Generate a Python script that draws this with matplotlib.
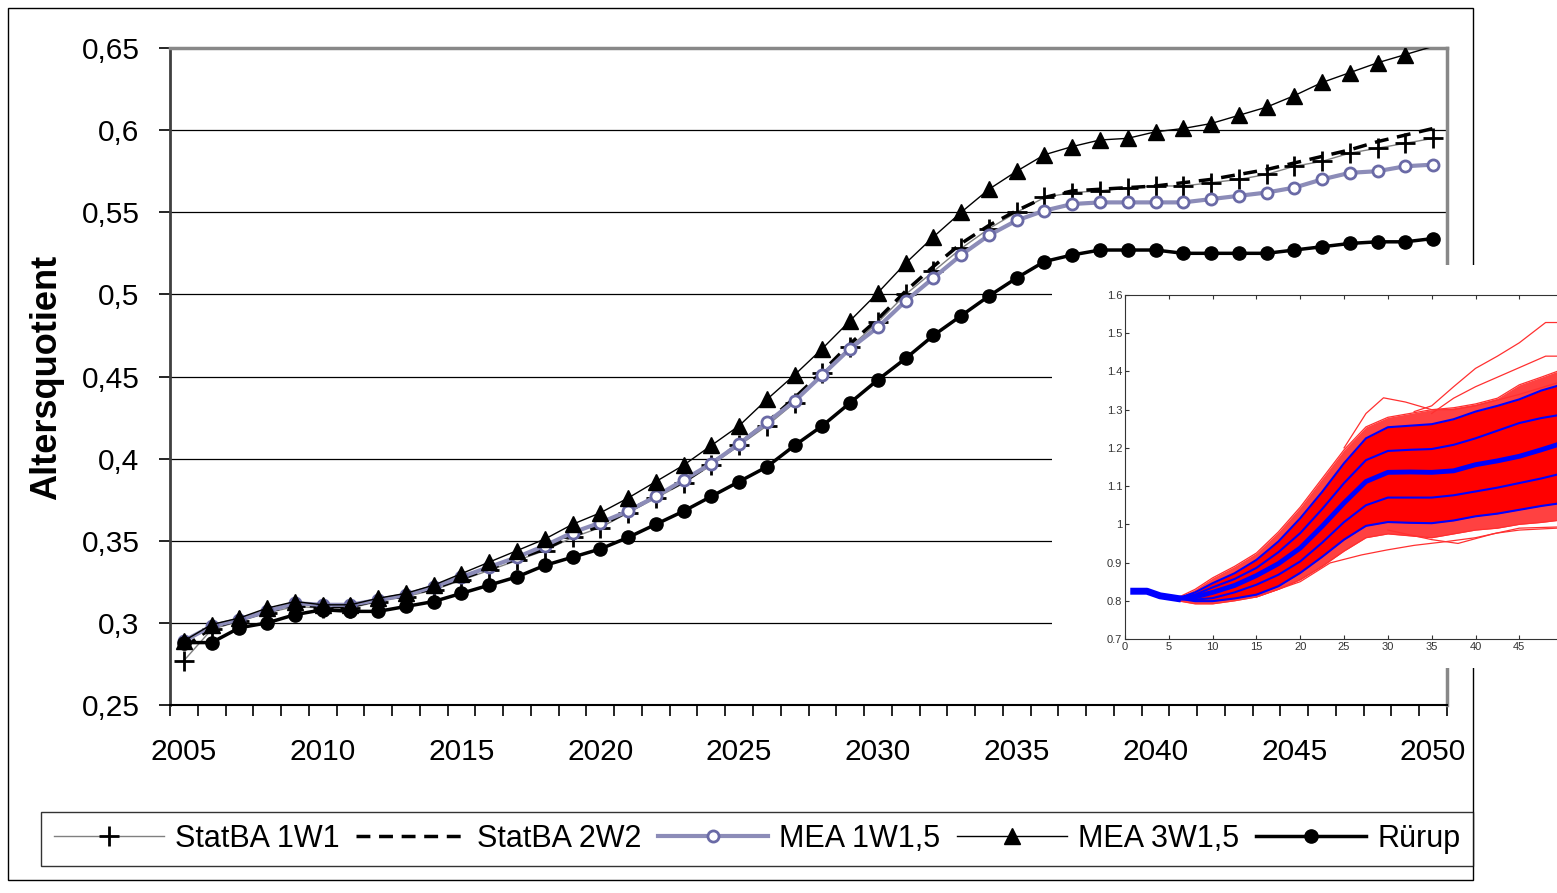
import numpy as np
import matplotlib
matplotlib.use("Agg")
import matplotlib.pyplot as plt
from matplotlib.patches import Rectangle

plt.rcParams['font.family'] = ['Liberation Sans', 'DejaVu Sans']

years = list(range(2005, 2051))

statba_1w1 = [0.277, 0.296, 0.301, 0.306, 0.310, 0.309, 0.309, 0.313, 0.316, 0.320,
              0.326, 0.332, 0.338, 0.344, 0.352, 0.358, 0.367, 0.376, 0.385, 0.396,
              0.408, 0.420, 0.434, 0.452, 0.468, 0.483, 0.500, 0.514, 0.528, 0.540,
              0.550, 0.559, 0.562, 0.563, 0.565, 0.566, 0.566, 0.568, 0.570, 0.573,
              0.578, 0.581, 0.586, 0.589, 0.592, 0.595]
statba_2w2 = [0.285, 0.297, 0.302, 0.307, 0.311, 0.310, 0.310, 0.314, 0.317, 0.321,
              0.327, 0.333, 0.339, 0.345, 0.353, 0.359, 0.368, 0.377, 0.386, 0.397,
              0.409, 0.422, 0.437, 0.453, 0.470, 0.485, 0.502, 0.517, 0.531, 0.542,
              0.551, 0.559, 0.563, 0.564, 0.565, 0.566, 0.568, 0.570, 0.573, 0.576,
              0.580, 0.584, 0.588, 0.593, 0.597, 0.601]
mea_1w15 = [0.289, 0.298, 0.302, 0.307, 0.312, 0.311, 0.311, 0.314, 0.317, 0.322,
            0.328, 0.334, 0.340, 0.347, 0.355, 0.361, 0.368, 0.377, 0.387, 0.397,
            0.409, 0.422, 0.435, 0.451, 0.467, 0.480, 0.496, 0.510, 0.524, 0.536,
            0.545, 0.551, 0.555, 0.556, 0.556, 0.556, 0.556, 0.558, 0.560, 0.562,
            0.565, 0.570, 0.574, 0.575, 0.578, 0.579]
mea_3w15 = [0.289, 0.299, 0.303, 0.309, 0.313, 0.311, 0.311, 0.315, 0.318, 0.323,
            0.330, 0.337, 0.344, 0.351, 0.360, 0.367, 0.376, 0.386, 0.396, 0.408,
            0.420, 0.436, 0.451, 0.467, 0.484, 0.501, 0.519, 0.535, 0.550, 0.564,
            0.575, 0.585, 0.590, 0.594, 0.595, 0.599, 0.601, 0.604, 0.609, 0.614,
            0.621, 0.629, 0.635, 0.641, 0.646, 0.651]
ruerup = [0.288, 0.288, 0.297, 0.300, 0.305, 0.308, 0.307, 0.307, 0.310, 0.313,
          0.318, 0.323, 0.328, 0.335, 0.340, 0.345, 0.352, 0.360, 0.368, 0.377,
          0.386, 0.395, 0.408, 0.420, 0.434, 0.448, 0.461, 0.475, 0.487, 0.499,
          0.510, 0.520, 0.524, 0.527, 0.527, 0.527, 0.525, 0.525, 0.525, 0.525,
          0.527, 0.529, 0.531, 0.532, 0.532, 0.534]

yticks = [0.25, 0.3, 0.35, 0.4, 0.45, 0.5, 0.55, 0.6, 0.65]
ytick_labels = ['0,25', '0,3', '0,35', '0,4', '0,45', '0,5', '0,55', '0,6', '0,65']
xtick_years = [2005, 2010, 2015, 2020, 2025, 2030, 2035, 2040, 2045, 2050]

# inset (simulation fan)
inset_t = [1, 2.5, 4, 6, 8, 10, 12.5, 15, 17.5, 20, 22.5, 25, 27.5, 30, 32.5, 35,
           37.5, 40, 42.5, 45, 47.5, 49.3]
q95 = [0.825, 0.825, 0.813, 0.806, 0.822, 0.846, 0.872, 0.907, 0.955, 1.016, 1.085,
       1.160, 1.225, 1.254, 1.258, 1.262, 1.275, 1.295, 1.310, 1.327, 1.350, 1.362]
q75 = [0.825, 0.825, 0.813, 0.806, 0.816, 0.835, 0.857, 0.886, 0.927, 0.977, 1.040,
       1.108, 1.168, 1.192, 1.195, 1.197, 1.208, 1.225, 1.245, 1.265, 1.278, 1.285]
q50 = [0.825, 0.825, 0.813, 0.806, 0.810, 0.822, 0.840, 0.866, 0.897, 0.938, 0.995,
       1.056, 1.112, 1.136, 1.137, 1.136, 1.140, 1.156, 1.166, 1.178, 1.195, 1.208]
q25 = [0.825, 0.825, 0.813, 0.806, 0.803, 0.807, 0.822, 0.842, 0.868, 0.903, 0.952,
       1.006, 1.050, 1.070, 1.070, 1.070, 1.076, 1.086, 1.096, 1.108, 1.120, 1.130]
q05 = [0.825, 0.825, 0.813, 0.806, 0.799, 0.799, 0.806, 0.816, 0.838, 0.873, 0.915,
       0.960, 0.996, 1.006, 1.004, 1.003, 1.010, 1.021, 1.028, 1.038, 1.048, 1.054]
red_hi = [0.825, 0.825, 0.813, 0.808, 0.830, 0.860, 0.890, 0.925, 0.980, 1.045, 1.120,
          1.195, 1.255, 1.280, 1.290, 1.300, 1.305, 1.315, 1.330, 1.365, 1.385, 1.400]
red_lo = [0.825, 0.825, 0.813, 0.800, 0.792, 0.792, 0.800, 0.810, 0.830, 0.855, 0.890,
          0.930, 0.965, 0.975, 0.970, 0.965, 0.975, 0.985, 0.990, 1.000, 1.005, 1.010]
out_a_t = [25, 27.5, 29.5, 32, 35, 37.5, 40, 45, 49.3]
out_a_v = [1.20, 1.29, 1.331, 1.32, 1.30, 1.30, 1.31, 1.34, 1.37]
out_b_t = [33, 35, 37.5, 40, 42.5, 45, 48, 49.3]
out_b_v = [1.295, 1.31, 1.36, 1.408, 1.44, 1.475, 1.528, 1.528]
out_c_t = [35, 37.5, 40, 42.5, 45, 48, 49.3]
out_c_v = [1.29, 1.33, 1.36, 1.385, 1.41, 1.44, 1.44]
out_d_t = [15, 20, 23.4, 27, 29.9, 33, 36.7, 40, 42.4, 45, 49.3]
out_d_v = [0.81, 0.85, 0.899, 0.92, 0.933, 0.945, 0.955, 0.965, 0.977, 0.985, 0.99]
out_e_t = [30, 35, 38, 42, 45, 49.3]
out_e_v = [0.985, 0.96, 0.95, 0.975, 0.99, 0.993]

W, H = 1557, 893
fig = plt.figure(figsize=(W / 100, H / 100), dpi=100)

ax = fig.add_axes([170 / W, 1 - 705 / H, (1447 - 170) / W, (705 - 48) / H])
ax.set_xlim(2004.5, 2050.5)
ax.set_ylim(0.25, 0.65)
for v in yticks[1:-1]:
    ax.axhline(v, color='black', lw=0.9, zorder=1)

l1, = ax.plot(years, statba_1w1, color='#808080', lw=1, marker='+', ms=14, mew=2,
              mec='black', zorder=3)
l2, = ax.plot(years, statba_2w2, color='black', lw=2.5, ls=(0, (4, 2.5)), zorder=3)
l3, = ax.plot(years, mea_1w15, color='#8c8cb8', lw=3, marker='o', ms=8, mew=2,
              mfc='white', mec='#6a6aa6', zorder=4)
l4, = ax.plot(years, mea_3w15, color='black', lw=1, marker='^', ms=12,
              markevery=list(range(len(years) - 1)), zorder=5)
l5, = ax.plot(years, ruerup, color='black', lw=2.5, marker='o', ms=9.5, zorder=6)

ax.set_yticks(yticks)
ax.set_yticklabels(ytick_labels, fontsize=21.5)
ax.set_xticks(xtick_years)
ax.set_xticklabels([str(y) for y in xtick_years], fontsize=21.5)
ax.set_xticks(np.arange(2004.5, 2051, 1), minor=True)
ax.tick_params(axis='x', which='major', length=0, pad=24)
ax.tick_params(axis='x', which='minor', length=8, width=1.2, direction='out')
ax.tick_params(axis='y', length=8, width=1.2, pad=14)
ax.spines['left'].set_color('#404040')
ax.spines['left'].set_linewidth(2)
ax.spines['bottom'].set_linewidth(1.5)
ax.spines['top'].set_color('#888888')
ax.spines['top'].set_linewidth(2.5)
ax.spines['right'].set_color('#888888')
ax.spines['right'].set_linewidth(2.5)

fig.text(47 / W, 1 - 377 / H, 'Altersquotient', rotation=90, fontsize=26,
         fontweight='bold', ha='center', va='center')

# outer frame
fig.add_artist(Rectangle((8 / W, 1 - 880 / H), (1473 - 8) / W, (880 - 8) / H,
                         transform=fig.transFigure, fill=False, ec='black', lw=1,
                         zorder=0.5))

leg = fig.legend([l1, l2, l3, l4, l5],
                 ['StatBA 1W1', 'StatBA 2W2', 'MEA 1W1,5', 'MEA 3W1,5', 'Rürup'],
                 loc='center', bbox_to_anchor=(757 / W, 1 - 839 / H), ncol=5,
                 fontsize=22, frameon=True, fancybox=False, edgecolor='black',
                 handlelength=3.6, handletextpad=0.36, columnspacing=0.55,
                 borderpad=0.4)
leg.get_frame().set_linewidth(1)
leg.set_zorder(5)

# white box for pasted simulation plot
fig.add_artist(Rectangle((1052 / W, 1 - 668 / H), (W - 1052) / W, (668 - 265) / H,
                         transform=fig.transFigure, fc='white', ec='none', zorder=1))

ins = fig.add_axes([1125 / W, 1 - 639 / H, (W - 1125) / W, (639 - 295) / H])
ins.set_zorder(2)
ins.fill_between(inset_t, red_lo, red_hi, color='#ff2020', alpha=0.85, lw=0)
ins.fill_between(inset_t, q05, q95, color='red', lw=0)
for tt, vv in [(inset_t, red_hi), (inset_t, red_lo), (out_a_t, out_a_v),
               (out_b_t, out_b_v), (out_c_t, out_c_v), (out_d_t, out_d_v),
               (out_e_t, out_e_v)]:
    ins.plot(tt, vv, color='#ff3030', lw=0.9)
for q in [q95, q75, q25, q05]:
    ins.plot(inset_t, q, color='blue', lw=1.5)
ins.plot(inset_t, q50, color='blue', lw=3.5)
ins.plot(inset_t[:4], q50[:4], color='blue', lw=5)
ins.set_xlim(0, 49.3)
ins.set_ylim(0.7, 1.6)
ins.set_xticks(range(0, 50, 5))
ins.set_yticks([0.7, 0.8, 0.9, 1.0, 1.1, 1.2, 1.3, 1.4, 1.5, 1.6])
ins.set_yticklabels(['0.7', '0.8', '0.9', '1', '1.1', '1.2', '1.3', '1.4', '1.5', '1.6'])
ins.tick_params(direction='in', length=3, labelsize=8, colors='#333333', top=True,
                pad=2)
ins.spines['right'].set_visible(False)
for s in ['left', 'bottom', 'top']:
    ins.spines[s].set_color('#333333')

fig.savefig('out.png', dpi=100)
